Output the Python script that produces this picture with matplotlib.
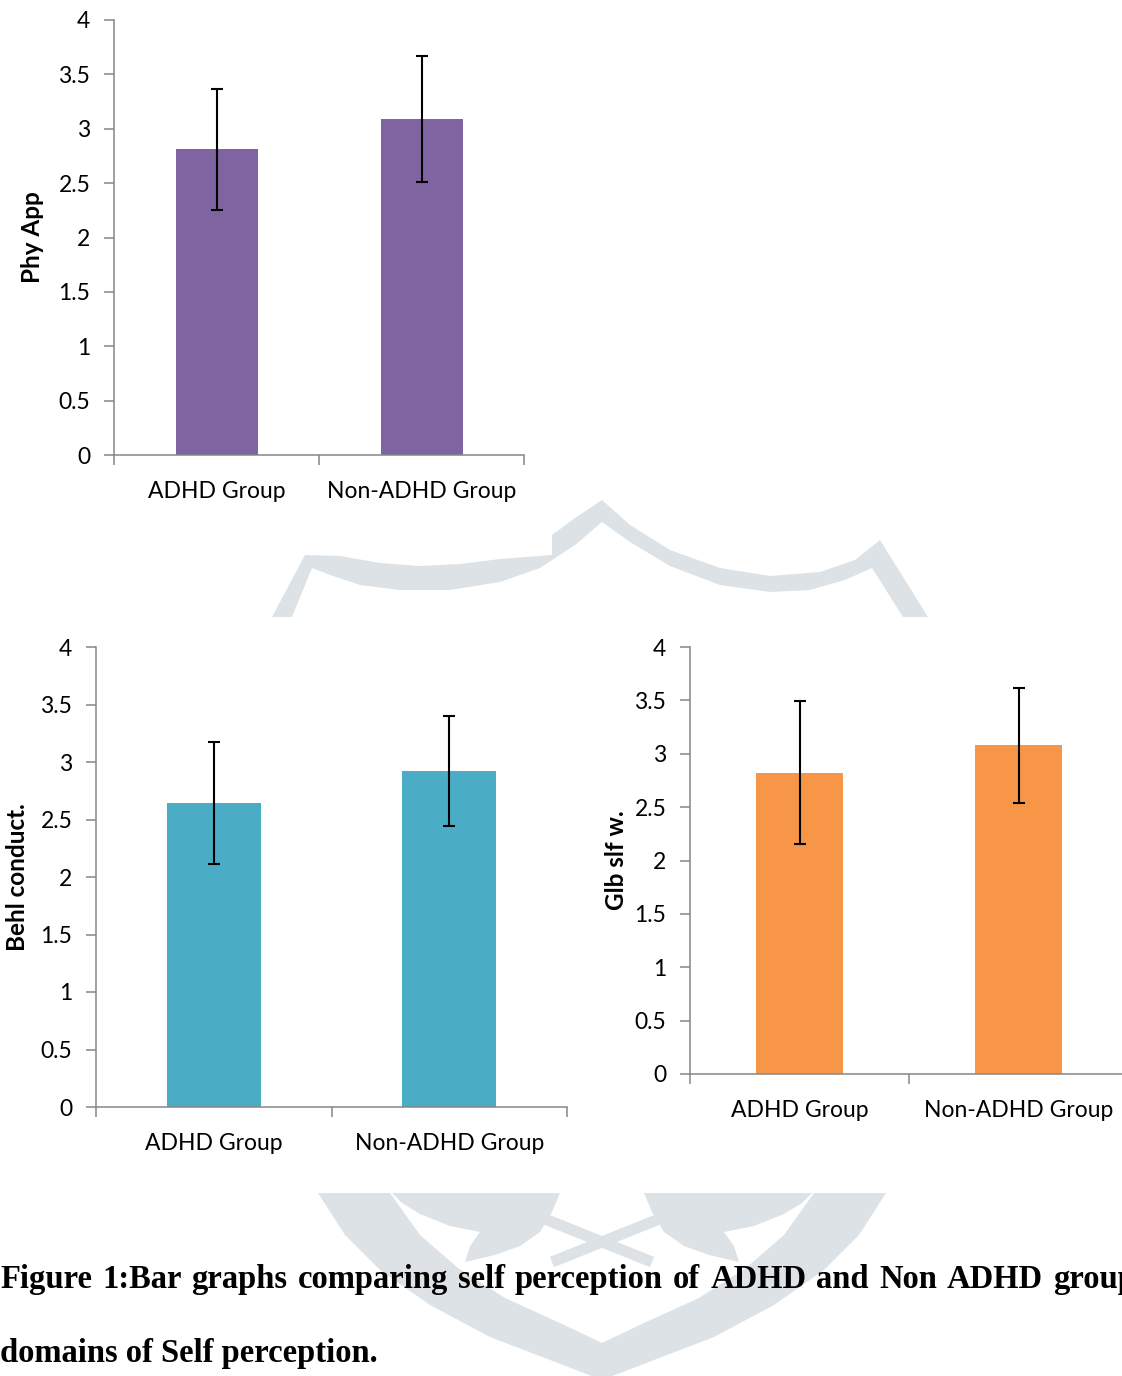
import numpy as np
import matplotlib.pyplot as plt
from matplotlib.patches import Polygon

plt.rcParams['font.family'] = ['Lato', 'DejaVu Sans']

groups = ["ADHD Group", "Non-ADHD Group"]

phy_app_mean = [2.81, 3.09]
phy_app_err = [0.56, 0.58]

behl_cond_mean = [2.64, 2.92]
behl_cond_err = [0.53, 0.48]

glb_slf_mean = [2.82, 3.08]
glb_slf_err = [0.67, 0.54]

y_ticks = [0, 0.5, 1, 1.5, 2, 2.5, 3, 3.5, 4]
y_tick_labels = ["0", "0.5", "1", "1.5", "2", "2.5", "3", "3.5", "4"]

caption_line1 = "Figure 1:Bar graphs comparing self perception of ADHD and Non ADHD group"
caption_line2 = "domains of Self perception."

W, H = 1122, 1376
AXIS_GREY = "#868686"
MARK_GREY = "#dce2e6"

fig = plt.figure(figsize=(W / 100, H / 100), dpi=100)

# background layer in pixel units: faint watermark and caption
bg = fig.add_axes([0, 0, 1, 1], zorder=0)
bg.set_xlim(0, W)
bg.set_ylim(H, 0)
bg.axis("off")

top_band = [(272, 617), (305, 555), (340, 556), (380, 563), (420, 566), (460, 564),
            (500, 559), (552, 555), (552, 535), (575, 518), (602, 500), (630, 525),
            (670, 550), (720, 568), (770, 576), (820, 572), (855, 560), (880, 540),
            (928, 617), (903, 617), (872, 568), (845, 580), (810, 590), (770, 592),
            (720, 585), (670, 566), (630, 542), (602, 522), (575, 545), (540, 568),
            (500, 582), (450, 590), (400, 590), (360, 585), (330, 575), (312, 568),
            (292, 617)]
left_arm = [(318, 1193), (345, 1235), (380, 1270), (430, 1305), (490, 1337),
            (550, 1360), (602, 1380), (602, 1343), (560, 1323), (505, 1298),
            (458, 1268), (420, 1235), (390, 1193)]
left_leaf = [(392, 1193), (560, 1193), (552, 1212), (540, 1232), (520, 1246),
             (495, 1255), (465, 1262), (470, 1246), (480, 1232), (450, 1226),
             (420, 1214), (402, 1203)]


def mirror(pts):
    return [(1204 - x, y) for x, y in pts]


for shape in [top_band, left_arm, mirror(left_arm), left_leaf, mirror(left_leaf)]:
    bg.add_patch(Polygon(shape, closed=True, facecolor=MARK_GREY, edgecolor="none"))
# crossed stems between the two leaves
bg.plot([515, 652], [1207, 1262], color=MARK_GREY, lw=8, solid_capstyle="butt")
bg.plot([689, 552], [1207, 1262], color=MARK_GREY, lw=8, solid_capstyle="butt")


def draw_panel(rect, means, errs, color, ylabel, label_x):
    ax = fig.add_axes(rect, zorder=2)
    ax.set_facecolor("none")
    x = np.arange(len(groups))
    ax.bar(x, means, width=0.4, color=color, edgecolor="none", zorder=2)
    ax.errorbar(x, means, yerr=errs, fmt="none", ecolor="black",
                elinewidth=1.5, capsize=4.3, capthick=1.5, zorder=3)
    ax.set_xlim(-0.5, len(groups) - 0.5)
    ax.set_ylim(0, 4)
    ax.set_yticks(y_ticks)
    ax.set_yticklabels(y_tick_labels)
    ax.set_xticks([-0.5, 0.5, 1.5])
    ax.set_xticklabels([])
    ax.set_xticks(x, minor=True)
    ax.set_xticklabels(groups, minor=True)
    ax.tick_params(axis="x", which="major", length=7, width=1.1, color=AXIS_GREY)
    ax.tick_params(axis="x", which="minor", length=0, pad=19, labelsize=16.5)
    ax.tick_params(axis="y", length=7, width=1.1, color=AXIS_GREY, pad=10, labelsize=16.5)
    for side in ["top", "right"]:
        ax.spines[side].set_visible(False)
    for side in ["left", "bottom"]:
        ax.spines[side].set_color(AXIS_GREY)
        ax.spines[side].set_linewidth(1.1)
    ax.set_ylabel(ylabel, fontsize=17.5, fontweight="bold", va="center")
    ax.yaxis.set_label_coords(label_x, 0.5)
    return ax


draw_panel([114 / W, 1 - 455 / H, 410 / W, 435 / H],
           phy_app_mean, phy_app_err, "#8064A2", "Phy App", -0.198)
draw_panel([96 / W, 1 - 1107 / H, 471 / W, 460 / H],
           behl_cond_mean, behl_cond_err, "#4BACC6", "Behl conduct.", -0.166)
draw_panel([690 / W, 1 - 1074 / H, 438 / W, 427 / H],
           glb_slf_mean, glb_slf_err, "#F79646", "Glb slf w.", -0.167)

# caption, first line justified across the page width
renderer = fig.canvas.get_renderer()
cap_font = dict(family="Liberation Serif", fontweight="bold", fontsize=23.5)
words = caption_line1.split()
texts = [bg.text(0, 1288, w, ha="left", va="baseline", **cap_font) for w in words]
widths = [t.get_window_extent(renderer).width for t in texts]
gap = (1136 - sum(widths)) / (len(words) - 1)
pos = 0
for t, w in zip(texts, widths):
    t.set_x(pos)
    pos += w + gap
bg.text(0, 1362, caption_line2, ha="left", va="baseline", **cap_font)

fig.savefig("out.png", dpi=100)
